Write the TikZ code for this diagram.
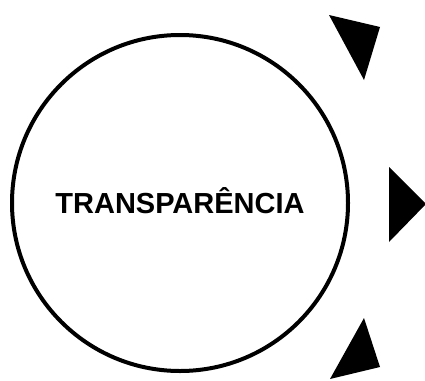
\documentclass[tikz,border=0pt]{standalone}
\usepackage{fontspec}
\setmainfont{Liberation Sans}

\begin{document}
\begin{tikzpicture}[x=1pt, y=-1pt,
  ring/.style    = {draw=black, line width=4pt, circle, minimum size=336pt, inner sep=0pt, text height=20.8pt, text depth=0pt, font=\bfseries\fontsize{29}{30}\selectfont},
  pointer/.style = {fill=black},
]
\useasboundingbox (0,0) rectangle (425,380);
\node[ring] (ring) at (180,203) {TRANSPARÊNCIA};
% pointers on the right
\fill[pointer] (329,15) -- (380,27) -- (364,80) -- cycle;
\fill[pointer] (389,167) -- (426,204) -- (389,242) -- cycle;
\fill[pointer] (364,318) -- (380,367) -- (330,379) -- cycle;
\end{tikzpicture}
\end{document}
